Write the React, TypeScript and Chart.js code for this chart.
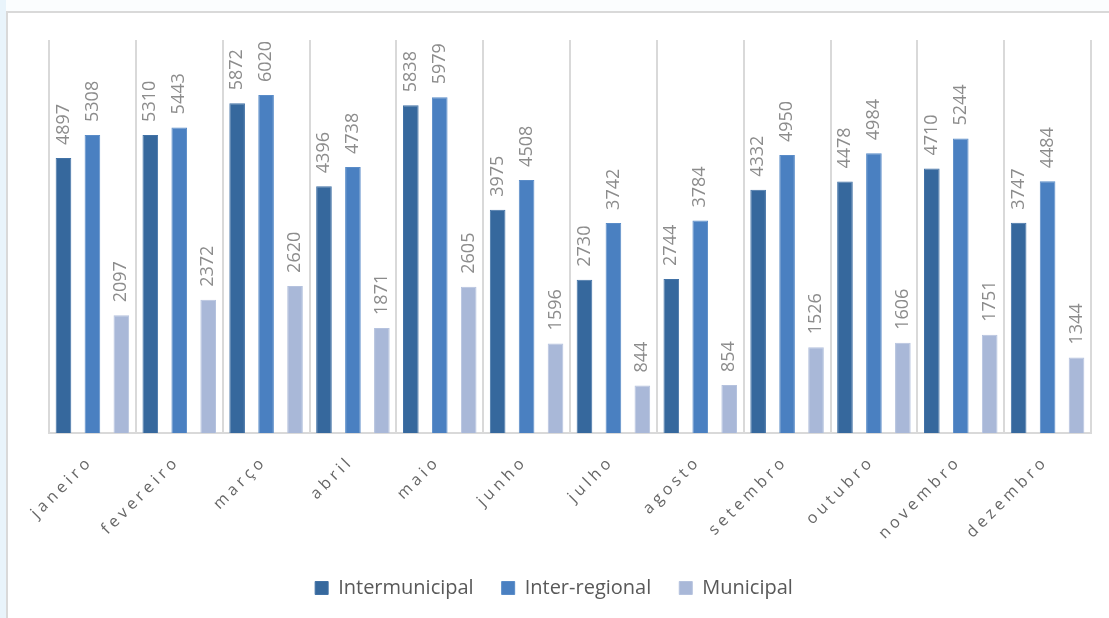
import React, { useEffect, useRef } from "react";
import { Chart, registerables } from "chart.js";

Chart.register(...registerables);

const months = ["janeiro", "fevereiro", "março", "abril", "maio", "junho", "julho", "agosto", "setembro", "outubro", "novembro", "dezembro"];
const intermunicipal = [4897, 5310, 5872, 4396, 5838, 3975, 2730, 2744, 4332, 4478, 4710, 3747];
const interRegional = [5308, 5443, 6020, 4738, 5979, 4508, 3742, 3784, 4950, 4984, 5244, 4484];
const municipal = [2097, 2372, 2620, 1871, 2605, 1596, 844, 854, 1526, 1606, 1751, 1344];
const seriesNames = ["Intermunicipal", "Inter-regional", "Municipal"];
const seriesColors = ["#36689d", "#4a80c1", "#a9b8d8"];
const seriesBorders = ["#4272a6", "#5a8cc8", "#b5c2de"];

const FONT = "'Open Sans', 'Noto Sans', sans-serif";

const valueLabels = {
  id: "valueLabels",
  afterDatasetsDraw(chart: any) {
    const ctx = chart.ctx;
    ctx.save();
    ctx.fillStyle = "#8c8c8c";
    ctx.font = `18px ${FONT}`;
    ctx.textAlign = "left";
    ctx.textBaseline = "middle";
    chart.data.datasets.forEach((ds: any, di: number) => {
      const meta = chart.getDatasetMeta(di);
      meta.data.forEach((el: any, i: number) => {
        ctx.save();
        ctx.translate(el.x, el.y - 13);
        ctx.rotate(-Math.PI / 2);
        ctx.fillText(String(ds.data[i]), 0, 0);
        ctx.restore();
      });
    });
    ctx.restore();
  },
};

const xLabels = {
  id: "xLabels",
  afterDraw(chart: any) {
    const ctx = chart.ctx;
    const xs = chart.scales.x;
    const bottom = chart.chartArea.bottom;
    ctx.save();
    ctx.fillStyle = "#666666";
    ctx.font = `16px ${FONT}`;
    (ctx as any).letterSpacing = "4px";
    ctx.textAlign = "right";
    ctx.textBaseline = "middle";
    months.forEach((m, i) => {
      const px = xs.getPixelForTick(i);
      ctx.save();
      ctx.translate(px - 2, bottom + 26);
      ctx.rotate(-Math.PI / 4);
      ctx.fillText(m, 0, 0);
      ctx.restore();
    });
    ctx.restore();
  },
};

export default function App() {
  const ref = useRef<HTMLCanvasElement>(null);
  useEffect(() => {
    if (!ref.current) return;
    const chart = new Chart(ref.current, {
      type: "bar",
      data: {
        labels: months,
        datasets: [intermunicipal, interRegional, municipal].map((d, i) => ({
          label: seriesNames[i],
          data: d,
          backgroundColor: seriesColors[i],
          borderColor: seriesBorders[i],
          borderWidth: 1,
          categoryPercentage: 1.0,
          barPercentage: 0.54,
        })),
      },
      options: {
        responsive: false,
        animation: false,
        layout: { padding: { left: 17, right: 18, top: 40, bottom: 10 } },
        scales: {
          x: {
            grid: { display: true, offset: true, color: "#d9d9d9", lineWidth: 2, drawTicks: false },
            border: { display: true, color: "#d9d9d9", width: 2 },
            ticks: { display: false },
            afterFit(scale: any) {
              scale.height = 117;
            },
          },
          y: {
            display: true,
            min: 0,
            max: 7000,
            grid: { display: false, drawTicks: false },
            border: { display: false },
            ticks: { display: false },
            afterFit(scale: any) {
              scale.width = 32;
            },
          },
        },
        plugins: {
          legend: {
            position: "bottom",
            labels: {
              boxWidth: 13,
              boxHeight: 13,
              padding: 28,
              color: "#595959",
              font: { size: 20, family: FONT },
            },
          },
          tooltip: { enabled: false },
        },
      },
      plugins: [valueLabels, xLabels],
    });
    return () => chart.destroy();
  }, []);

  return (
    <div style={{ position: "fixed", left: 0, top: 0, width: 1109, height: 618, background: "#e9f4fb", overflow: "hidden" }}>
      <div style={{ position: "absolute", left: 6, top: 11, width: 1120, height: 640, background: "#ffffff", borderLeft: "2px solid #d9d9d9", borderTop: "2px solid #d9d9d9" }} />
      <div style={{ position: "absolute", left: 6, top: 0, width: 1110, height: 11, background: "#fbfdfe" }} />
      <canvas ref={ref} width={1109} height={618} style={{ position: "absolute", left: 0, top: 0, width: 1109, height: 618 }} />
    </div>
  );
}
